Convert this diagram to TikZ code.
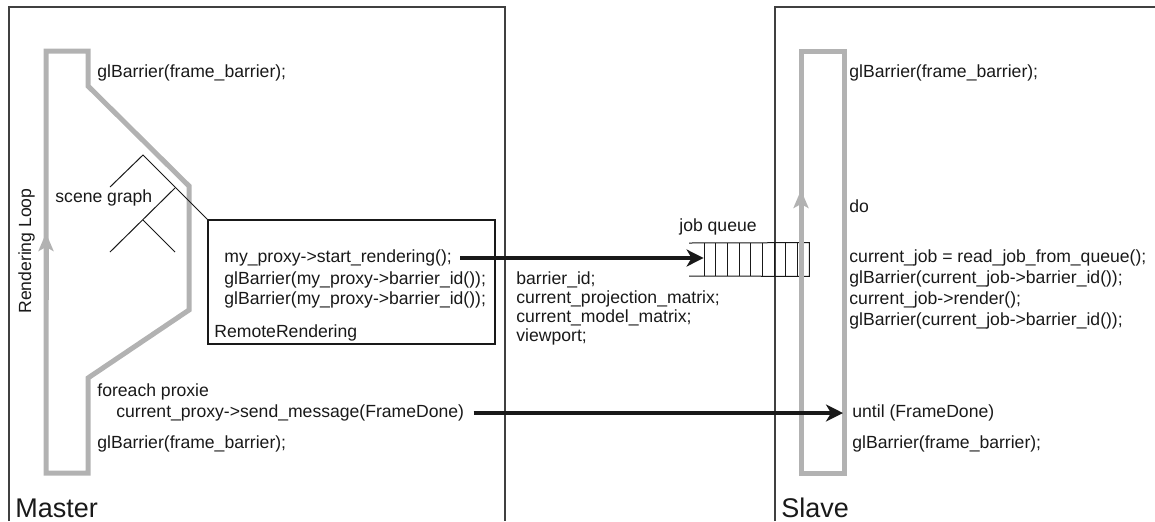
\documentclass[tikz,border=0pt]{standalone}
\usepackage{fontspec}
\setmainfont{Liberation Sans}
\usetikzlibrary{arrows.meta}

\begin{document}
\begin{tikzpicture}[x=0.5pt, y=-0.5pt,
	txt/.style={font=\fontsize{8.8}{10.5}\selectfont, text=black!90, anchor=west,
		inner sep=0pt, execute at begin node=\strut},
	title/.style={font=\fontsize{13.5}{15}\selectfont, text=black!90, anchor=west, inner sep=0pt},
	frame/.style={draw=black!75, line width=0.8pt},
	loopline/.style={draw=black!30, line width=2.5pt},
	looptip/.style={loopline, -{Stealth[length=9pt,width=7.5pt,inset=2pt]}},
	msg/.style={draw=black!90, line width=2pt, -{Stealth[length=8.5pt,width=8.5pt,inset=2.5pt]}}]
	\useasboundingbox (0,0) rectangle (1155,521);
	% frames
	\draw[frame] (9,521) -- (9,7) -- (505,7) -- (505,521);
	\draw[frame] (775,521) -- (775,7) -- (1155,7);
	\node[title] (master) at (15,508) {Master};
	\node[title] (slave) at (781,508) {Slave};
	% master loop
	\draw[loopline, line join=miter] (46,51) -- (88,51) -- (88,86) -- (189,186) -- (189,310)
		-- (88,378) -- (88,473) -- (46,473) -- cycle;
	\draw[looptip] (46,300) -- (46,233);
	\node[txt, anchor=center, rotate=90] (rloop) at (27,251) {Rendering Loop};
	\node[txt] (mtop) at (97,73) {glBarrier(frame\_barrier);};
	% scene graph
	\node[txt] (scene) at (55,198) {scene graph};
	\node[draw=black!90, line width=0.6pt, minimum width=143.5pt, minimum height=62pt,
		inner sep=0pt] (remote) at (351.5,282) {};
	\coordinate (root) at (143,155);
	\coordinate (n1) at (175,188);
	\coordinate (n2) at (143,220);
	\draw[black!90, line width=0.5pt] (110,187) -- (root) -- (remote.north west);
	\draw[black!90, line width=0.5pt] (n1) -- (110,252);
	\draw[black!90, line width=0.5pt] (n2) -- (175,252);
	\node[txt] (start) at (224,258) {my\_proxy->start\_rendering();};
	\node[txt] (mbar1) at (224,280) {glBarrier(my\_proxy->barrier\_id());};
	\node[txt] (mbar2) at (224,300) {glBarrier(my\_proxy->barrier\_id());};
	\node[txt] (rr) at (214,333) {RemoteRendering};
	\node[txt] (foreach) at (97,392) {foreach proxie};
	\node[txt] (send) at (116,413) {current\_proxy->send\_message(FrameDone)};
	\node[txt] (mbot) at (97,444) {glBarrier(frame\_barrier);};
	% job queue
	\node[inner sep=0pt, minimum width=52.5pt, minimum height=16.5pt] (queue) at (756.5,259.5) {};
	\draw[black!90, line width=0.5pt] (689,243) -- (queue.north east) -- (queue.south east) -- (689,276);
	\foreach \i in {0,...,8}
		\draw[black!90, line width=0.5pt] (704+\i*11.67,243) -- ++(0,33);
	\node[txt, anchor=center] (jq) at (718,227) {job queue};
	\node[txt] (jbar) at (516,280) {barrier\_id;};
	\node[txt] (jproj) at (516,299) {current\_projection\_matrix;};
	\node[txt] (jmodel) at (516,318) {current\_model\_matrix;};
	\node[txt] (jview) at (516,337) {viewport;};
	% slave loop
	\draw[loopline, line join=miter] (801,51) rectangle (844,473);
	\draw[looptip] (801,260) -- (801,190);
	\node[txt] (stop) at (849,73) {glBarrier(frame\_barrier);};
	\node[txt] (do) at (849,208) {do};
	\node[txt] (cjob) at (849,258) {current\_job = read\_job\_from\_queue();};
	\node[txt] (cbar1) at (849,279) {glBarrier(current\_job->barrier\_id());};
	\node[txt] (crender) at (849,300) {current\_job->render();};
	\node[txt] (cbar2) at (849,321) {glBarrier(current\_job->barrier\_id());};
	\node[txt] (until) at (852,413) {until (FrameDone)};
	\node[txt] (sbot) at (852,444) {glBarrier(frame\_barrier);};
	% messages
	\draw[msg] ([xshift=4pt]start.east) -- (start.east -| queue.west);
	\draw[msg] ([xshift=4.5pt]send.east) -- ([xshift=-4.5pt]until.west);
\end{tikzpicture}
\end{document}
